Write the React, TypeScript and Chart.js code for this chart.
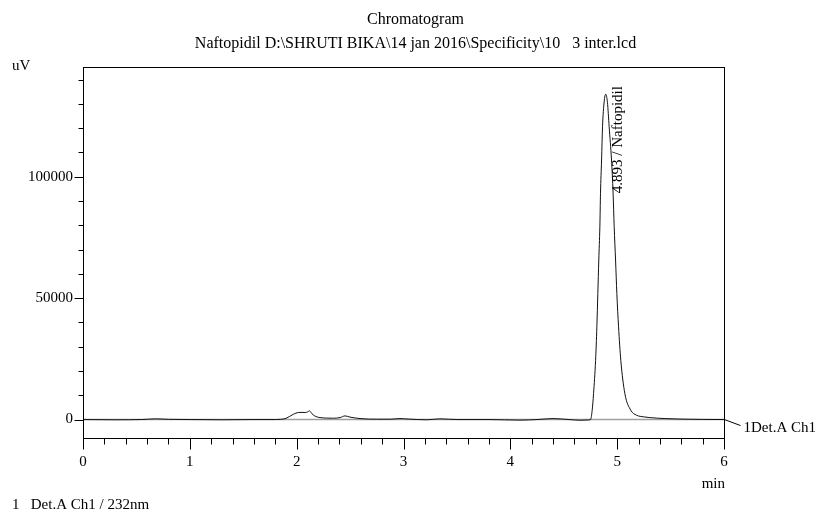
import React, { useEffect, useRef } from "react";
import { Chart, registerables } from "chart.js";

Chart.register(...registerables);

// Retention time (min)
const times = [
  0, 0.3, 0.55, 0.68, 0.8, 1.0, 1.3, 1.6, 1.8, 1.85,
  1.9, 1.97, 2.016, 2.05, 2.079, 2.105, 2.119, 2.135, 2.157, 2.19,
  2.219, 2.28, 2.344, 2.406, 2.453, 2.5, 2.593, 2.749, 2.874, 2.967,
  3.05, 3.217, 3.34, 3.5, 3.8, 4.09, 4.25, 4.4, 4.55, 4.65,
  4.72, 4.751, 4.766, 4.779, 4.798, 4.81, 4.819, 4.828, 4.838, 4.844,
  4.854, 4.863, 4.878, 4.893, 4.909, 4.925, 4.947, 4.962, 4.972, 4.985,
  4.997, 5.013, 5.034, 5.072, 5.128, 5.181, 5.25, 5.306, 5.45, 5.587,
  5.8, 6.0,
];
// Detector signal (uV)
const signal = [
  0, -100, 0, 300, 100, 0, -100, 0, 0, 100,
  500, 2200, 2900, 2950, 2900, 3200, 3600, 2900, 1800, 1100,
  800, 600, 550, 800, 1500, 1000, 400, 150, 150, 400,
  200, -100, 300, 0, 0, -250, 0, 400, 0, -300,
  -200, 0, 3800, 10700, 24400, 38200, 51900, 65700, 79400, 93200,
  106900, 120600, 130800, 134000, 130600, 120600, 106900, 93200, 79400, 65700,
  51900, 38200, 24400, 10700, 3800, 1800, 1100, 800, 400, 200,
  50, 0,
];
const baselineTimes = [0, 6];
const baselineValues = [0, 0];

const xMin = 0;
const xMax = 6;
const yMin = -7600;
const yMax = 145200;
const xTickValues = [
  0, 0.2, 0.4, 0.6, 0.8, 1, 1.2, 1.4, 1.6, 1.8, 2, 2.2, 2.4, 2.6, 2.8, 3,
  3.2, 3.4, 3.6, 3.8, 4, 4.2, 4.4, 4.6, 4.8, 5, 5.2, 5.4, 5.6, 5.8, 6,
];
const xLabeled = [0, 1, 2, 3, 4, 5, 6];
const yTickValues = [
  0, 10000, 20000, 30000, 40000, 50000, 60000, 70000, 80000, 90000,
  100000, 110000, 120000, 130000, 140000,
];
const yLabeled = [0, 50000, 100000];

const peakTime = 4.893;
const peakHeight = 134000;
const peakLabel = "4.893 / Naftopidil";
const titleText = "Chromatogram";
const subtitleText = "Naftopidil D:\\SHRUTI BIKA\\14 jan 2016\\Specificity\\10   3 inter.lcd";
const yUnit = "uV";
const xUnit = "min";
const channelLabel = "1Det.A Ch1";
const footerText = "1   Det.A Ch1 / 232nm";

const FONT = "'Liberation Serif', 'Times New Roman', serif";

const isLabeledX = (v: number) => xLabeled.some((m) => Math.abs(m - v) < 1e-6);
const isLabeledY = (v: number) => yLabeled.some((m) => Math.abs(m - v) < 1e-6);

const overlay = {
  id: "overlay",
  afterDraw(chart: any) {
    const ctx = chart.ctx as CanvasRenderingContext2D;
    const { left, right, top, bottom } = chart.chartArea;
    const xs = chart.scales.x;
    const ys = chart.scales.y;
    const L = Math.round(left) + 0.5;
    const R = Math.round(right) + 0.5;
    const T = Math.round(top) + 0.5;
    const B = Math.round(bottom) + 0.5;
    ctx.save();
    ctx.strokeStyle = "#000";
    ctx.lineWidth = 1;
    const line = (x1: number, y1: number, x2: number, y2: number) => {
      ctx.beginPath();
      ctx.moveTo(x1, y1);
      ctx.lineTo(x2, y2);
      ctx.stroke();
    };
    // frame
    ctx.strokeRect(L, T, R - L, B - T);
    // y ticks
    ys.ticks.forEach((t: any) => {
      const y = Math.round(ys.getPixelForValue(t.value)) + 0.5;
      line(L - (isLabeledY(t.value) ? 9 : 5), y, L, y);
    });
    // x ticks
    xs.ticks.forEach((t: any) => {
      const x = Math.round(xs.getPixelForValue(t.value)) + 0.5;
      line(x, B, x, B + (isLabeledX(t.value) ? 11 : 6));
    });
    // connector to channel label
    const y0 = ys.getPixelForValue(0);
    line(R, y0, R + 16, y0 + 6);

    ctx.fillStyle = "#000";
    ctx.textBaseline = "middle";
    // titles
    ctx.textAlign = "center";
    ctx.font = `16px ${FONT}`;
    const cx = (left + right) / 2 + 12;
    ctx.fillText(titleText, cx, 20);
    ctx.fillText(subtitleText, cx, 44);
    // axis units
    ctx.font = `15px ${FONT}`;
    ctx.textAlign = "left";
    ctx.fillText(yUnit, 12, top - 1);
    ctx.textAlign = "right";
    ctx.fillText(xUnit, right + 1, bottom + 46);
    // channel label
    ctx.textAlign = "left";
    ctx.fillText(channelLabel, R + 19, y0 + 9);
    // footer
    ctx.fillText(footerText, 12, chart.height - 8);
    // peak label (rotated)
    const px = xs.getPixelForValue(peakTime) + 12;
    const py = ys.getPixelForValue(peakHeight) + 99;
    ctx.save();
    ctx.translate(px, py);
    ctx.rotate(-Math.PI / 2);
    ctx.textAlign = "left";
    ctx.textBaseline = "middle";
    ctx.font = `15px ${FONT}`;
    ctx.fillText(peakLabel, 0, 0);
    ctx.restore();
    ctx.restore();
  },
};

export default function App() {
  const ref = useRef<HTMLCanvasElement>(null);
  useEffect(() => {
    document.body.style.margin = "0";
    const canvas = ref.current!;
    const chart = new Chart(canvas, {
      type: "line",
      data: {
        datasets: [
          {
            label: "trace",
            data: times.map((t, i) => ({ x: t, y: signal[i] })),
            borderColor: "#111",
            borderWidth: 1,
            pointRadius: 0,
            fill: false,
            cubicInterpolationMode: "monotone",
            order: 0,
          },
          {
            label: "baseline",
            data: baselineTimes.map((t, i) => ({ x: t, y: baselineValues[i] })),
            borderColor: "#a0a0a0",
            borderWidth: 1.5,
            pointRadius: 0,
            fill: false,
            order: 1,
          },
        ],
      },
      options: {
        responsive: false,
        animation: false,
        events: [],
        layout: { padding: { top: 67, right: 97, bottom: 0, left: 0 } },
        plugins: {
          legend: { display: false },
          title: { display: false },
          tooltip: { enabled: false },
        },
        scales: {
          x: {
            type: "linear",
            min: xMin,
            max: xMax,
            grid: { display: false, drawTicks: false },
            border: { display: false },
            afterBuildTicks: (s: any) => {
              s.ticks = xTickValues.map((v) => ({ value: v }));
            },
            ticks: {
              autoSkip: false,
              maxRotation: 0,
              padding: 15,
              color: "#000",
              font: { family: FONT, size: 15 },
              callback: (v: any) => (isLabeledX(Number(v)) ? String(Math.round(Number(v))) : ""),
            },
            afterFit: (s: any) => {
              s.height = 75;
            },
          },
          y: {
            type: "linear",
            min: yMin,
            max: yMax,
            grid: { display: false, drawTicks: false },
            border: { display: false },
            afterBuildTicks: (s: any) => {
              s.ticks = yTickValues.map((v) => ({ value: v }));
            },
            ticks: {
              autoSkip: false,
              padding: 10,
              color: "#000",
              font: { family: FONT, size: 15 },
              callback: (v: any) => (isLabeledY(Number(v)) ? String(Math.round(Number(v))) : ""),
            },
            afterFit: (s: any) => {
              s.width = 83;
            },
          },
        },
      },
      plugins: [overlay],
    });
    return () => chart.destroy();
  }, []);
  return (
    <div style={{ width: 821, height: 513 }}>
      <canvas ref={ref} width={821} height={513} />
    </div>
  );
}
